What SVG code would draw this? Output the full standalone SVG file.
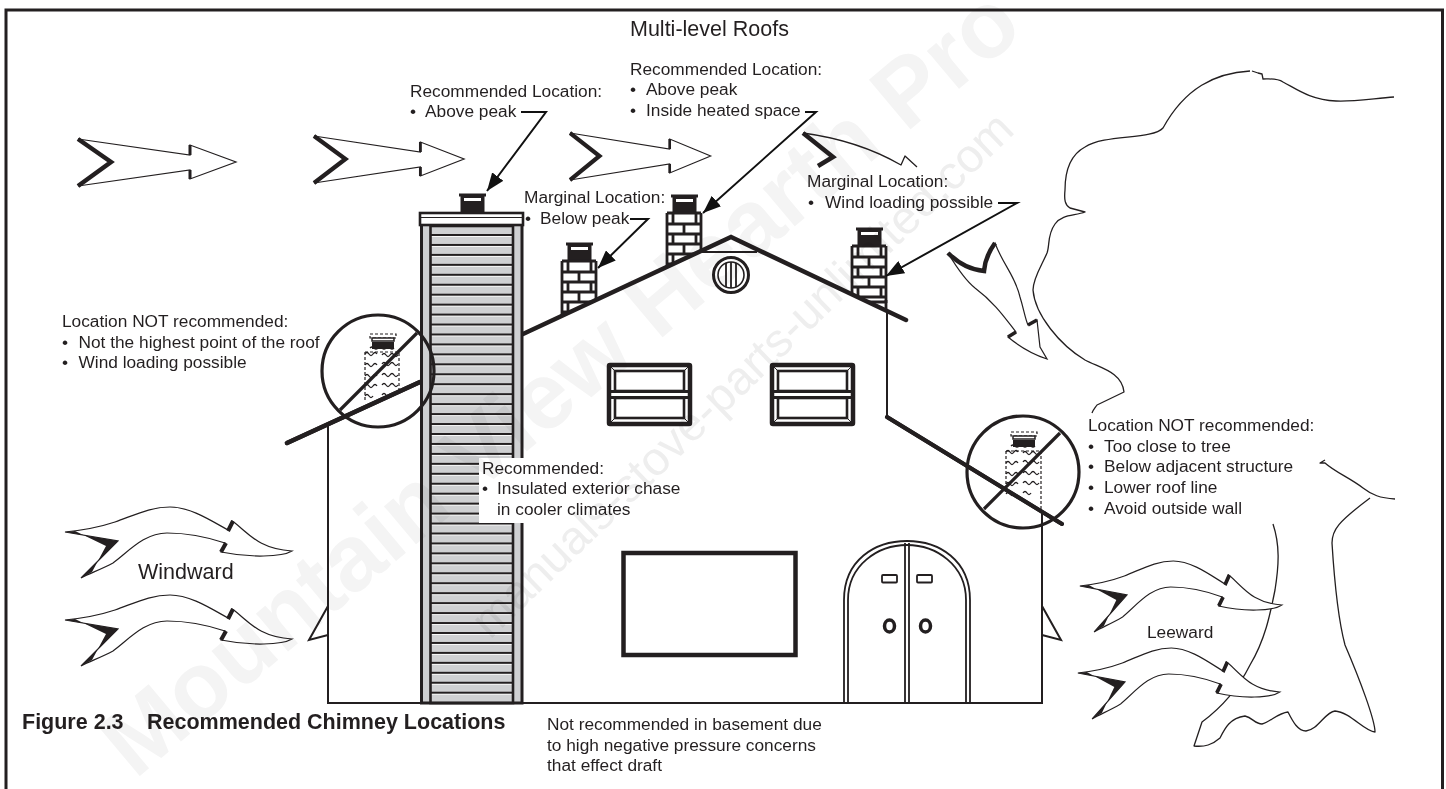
<svg xmlns="http://www.w3.org/2000/svg" xmlns:xlink="http://www.w3.org/1999/xlink" width="1446" height="789" viewBox="0 0 1446 789">
<style>
text{font-family:"Liberation Sans",Arial,sans-serif;font-size:17.3px;fill:#231f20}
.title{font-size:21.5px}
.fig{font-size:21.5px;font-weight:bold}
.wm1{font-size:94px;font-weight:bold;fill:#f4f4f4}
.wm2{font-size:47px;fill:#eeeeee}
#watermark{mix-blend-mode:multiply}
.thin{fill:none;stroke:#231f20;stroke-width:1.3;stroke-linejoin:round}
.thinw{fill:#fff;stroke:#231f20;stroke-width:1.2;stroke-linejoin:miter}
.ink{fill:#231f20}
.wall{fill:none;stroke:#231f20;stroke-width:2}
.roof{fill:none;stroke:#231f20;stroke-width:4.5;stroke-linecap:round}
.roof2{fill:none;stroke:#231f20;stroke-width:4;stroke-linecap:round}
.thick{fill:none;stroke:#231f20;stroke-width:4.5;stroke-linejoin:miter}
.brick{fill:none;stroke:#231f20;stroke-width:2.8}
.dash{fill:none;stroke:#231f20;stroke-width:1.2;stroke-dasharray:3 2}
.wig{fill:none;stroke:#231f20;stroke-width:1.3}
.ban{fill:none;stroke:#231f20;stroke-width:3.2}
.lead{fill:none;stroke:#111;stroke-width:2;marker-end:url(#ah)}
</style>
<defs>
<marker id="ah" markerUnits="userSpaceOnUse" markerWidth="20" markerHeight="14" refX="18" refY="7" orient="auto"><path d="M0 0L18 7L0 14Z" fill="#111"/></marker>
<pattern id="slats" patternUnits="userSpaceOnUse" x="0" y="234" width="10" height="9.95">
<rect width="10" height="9.95" fill="#cfd0d2"/><rect y="0" width="10" height="2" fill="#231f20"/><rect y="2" width="10" height="0.9" fill="#fff"/>
</pattern>
<g id="arrowS">
<path class="thinw" d="M0 0L112 16V6L158 23L112 40V31L0 47L33 23Z"/>
<path class="thick" d="M0 0L33 23L0 47"/>
<path d="M112 16V6M112 31V40" fill="none" stroke="#231f20" stroke-width="3"/>
</g>
<g id="arrowC">
<path class="thinw" d="M65 532C85 530 100 527 115 522C135 515 150 507 170 507C190 507 210 520 228 530L232 521L235 523C250 535 260 549 292 551C282 557 250 558 221 552L225 543C210 538 190 533 167 533C145 533 130 550 113 563C100 570 90 573 81 578L118 541Z"/>
<path class="ink" d="M65 532L118 541L81 578L92 572L106 546L75 531Z"/>
<path d="M228 531L233 521M221 552L226 543" fill="none" stroke="#231f20" stroke-width="4"/>
</g>
<g id="cap">
<path class="ink" d="M5 0.5H32V3.5H30.5V19H6.5V3.5H5Z"/>
<rect x="10" y="5" width="17" height="3" fill="#fff"/>
</g>
<g id="brickC">
<use xlink:href="#cap"/>
<path class="brick" d="M1 19H35M1 19V76M35 19V76M1 30H35M1 40H35M1 50H35M1 60H35M1 70H35M7 19V30M30 19V30M18 30V40M7 40V50M30 40V50M18 50V60M7 60V70M30 60V70"/>
</g>
<g id="ghost">
<rect x="6" y="0" width="26" height="4" class="dash"/>
<rect x="8" y="4" width="22" height="3" fill="#fff" stroke="#231f20" stroke-width="1.5"/>
<rect x="8" y="8" width="22" height="7" class="ink"/>
<path class="wig" d="M1 20q2-3 4 0t4 0 4 0M18 21q2-3 4 0t4 0 4 0 4 0M1 31q2-3 4 0t4 0 4 0M18 30q2-3 4 0t4 0 4 0 4 0M1 42q2-3 4 0t4 0 4 0M18 41q2-3 4 0t4 0 4 0 4 0M1 52q2-3 4 0t4 0 4 0M18 51q2-3 4 0t4 0 4 0 4 0M1 62q2-3 4 0t4 0M18 61q2-3 4 0t4 0"/>
<path class="wig" stroke-width="2" d="M6 14q2-2 4 0t4 0 4 0 4 0 4 0 4 0"/>
</g>
<g id="win">
<rect x="2" y="2" width="81" height="59" rx="1" fill="#fff" stroke="#231f20" stroke-width="4.5"/>
<rect x="8" y="8" width="69" height="20" fill="#fff" stroke="#231f20" stroke-width="2.6"/>
<rect x="8" y="35" width="69" height="20" fill="#fff" stroke="#231f20" stroke-width="2.6"/>
<path d="M2 28.5H83M2 34.5H83" stroke="#231f20" stroke-width="3" fill="none"/>
<path d="M2 2L8 8M83 2L77 8M2 61L8 55M83 61L77 55" stroke="#231f20" stroke-width="1"/>
</g>
</defs>
<rect width="1446" height="789" fill="#fff"/>
<path id="frame" d="M6 789V10H1442.5V789" fill="none" stroke="#231f20" stroke-width="3"/>
<g id="wind-top">
<use xlink:href="#arrowS" x="78" y="139"/>
<use xlink:href="#arrowS" transform="translate(314 136) scale(.95 1)"/>
<use xlink:href="#arrowS" transform="translate(570 133) scale(.89 1)"/>
<path class="thin" d="M803 133C840 138 875 150 901 165L905 156L917 167"/>
<path class="thick" d="M803 133L833 157L818 166"/>
</g>
<g id="wind-down">
<path class="thinw" d="M995 243C1003 265 1015 275 1020 297C1024 310 1025 318 1028 325L1037 320L1040 347L1047 359C1035 355 1020 347 1008 337L1016 332C1005 318 995 303 975 288C965 280 957 268 948 253C960 265 972 270 984 271C985 258 990 250 995 243Z"/>
<path class="thick" d="M948 253C960 265 972 270 984 271C985 258 990 250 995 243"/>
<path d="M1028 325L1037 320M1008 337L1016 332" stroke="#231f20" stroke-width="3.5" fill="none"/>
</g>
<g id="tree">
<path class="thin" d="M1394 97C1370 99 1350 102 1336 101C1310 100 1295 88 1283 82C1277 78 1270 79 1263 79L1262 74L1258 73L1252 71"/>
<path class="thin" d="M1250 71C1215 73 1185 88 1163 128C1152 140 1105 134 1085 147C1070 155 1065 172 1065 190C1064 200 1065 205 1070 208L1085 212C1075 216 1062 214 1055 224C1047 235 1050 245 1047 253C1042 265 1033 278 1033 290C1035 315 1060 345 1085 360C1100 368 1122 372 1124 392L1097 405C1095 408 1093 410 1092 413"/>
<path class="thin" d="M1273 524C1280 545 1279 565 1275 590C1270 615 1265 640 1250 665C1240 685 1225 705 1202 722L1194 746C1205 747 1212 745 1220 738C1225 728 1230 718 1245 716C1253 718 1255 724 1262 724C1270 722 1278 713 1288 712C1293 722 1298 731 1306 731C1318 730 1325 712 1335 711C1350 712 1365 732 1375 732C1375 720 1360 680 1345 645C1337 615 1334 575 1332 543C1332 530 1338 522 1370 498"/>
<path class="thin" d="M1395 499C1380 498 1372 495 1363 488C1350 478 1335 472 1325 463L1320 463L1325 460"/>
</g>
<g id="chimneys">
<use xlink:href="#brickC" x="561" y="242"/>
<use xlink:href="#brickC" x="666" y="194"/>
<use xlink:href="#brickC" x="851" y="227"/>
<path class="brick" d="M851 302H886M886 300V316"/>
<path d="M523 334L731 237L887 311V425H523Z" fill="#fff"/>
</g>
<g id="house">
<path class="wall" d="M328 425V703H1042V510"/>
<path class="wall" d="M328 606L309 640L328 635M1042 606L1061 640L1042 635"/>
<path class="roof" d="M287 443L420 382"/>
<path class="roof" d="M523 334L731 237L906 320"/>
<path d="M702 252H757" stroke="#231f20" stroke-width="2" fill="none"/>
<path class="wall" d="M887 312V417" stroke-width="2.5"/>
<path class="roof2" d="M887 417L1062 524"/>
<g id="vent">
<circle cx="731" cy="275" r="17.5" fill="#fff" stroke="#231f20" stroke-width="3"/>
<circle cx="731" cy="275" r="13" fill="#fff" stroke="#231f20" stroke-width="1.6"/>
<path d="M726 263V287M731 262V288M736 263V287" stroke="#231f20" stroke-width="1.8" fill="none"/>
</g>
<use xlink:href="#win" x="607" y="363"/>
<use xlink:href="#win" x="770" y="363"/>
<g id="big-window">
<rect x="623.5" y="553" width="172" height="102" fill="#fff" stroke="#231f20" stroke-width="4.5"/>
</g>
<g id="door">
<path d="M844 703V600C844 560 875 541 907 541C939 541 970 560 970 600V703" fill="none" stroke="#231f20" stroke-width="1.8"/>
<path d="M848 703V600C848 565 878 545 907 545C936 545 966 565 966 600V703" fill="none" stroke="#231f20" stroke-width="1.8"/>
<path d="M905 543V703M909 543V703" stroke="#231f20" stroke-width="1.8" fill="none"/>
<rect x="882" y="575" width="15" height="7.5" rx="1" fill="#fff" stroke="#231f20" stroke-width="1.8"/>
<rect x="917" y="575" width="15" height="7.5" rx="1" fill="#fff" stroke="#231f20" stroke-width="1.8"/>
<ellipse cx="889.5" cy="626" rx="5" ry="6" fill="#fff" stroke="#231f20" stroke-width="3.5"/>
<ellipse cx="925.5" cy="626" rx="5" ry="6" fill="#fff" stroke="#231f20" stroke-width="3.5"/>
</g>
</g>
<g id="chase">
<rect x="421.5" y="224" width="100.5" height="479" fill="#cfd0d2" stroke="#231f20" stroke-width="3"/>
<rect x="430.5" y="226" width="82.5" height="477" fill="url(#slats)" stroke="#231f20" stroke-width="2.6"/>
<rect x="420" y="213" width="103" height="12" fill="#fff" stroke="#231f20" stroke-width="2.6"/>
<path d="M420 217.5H523" stroke="#231f20" stroke-width="1.2"/>
<use xlink:href="#cap" x="454" y="193"/>
<rect x="479" y="458" width="46" height="65" fill="#fff"/>
</g>
<g id="ban-left">
<use xlink:href="#ghost" x="364" y="334"/>
<path class="dash" d="M365 352H399V392M365 352V400"/>
<path class="roof" d="M287 443L420 382" stroke-width="4"/>
<circle class="ban" cx="378" cy="371" r="56"/>
<path class="ban" d="M340 410L417 333"/>
</g>
<g id="ban-right">
<use xlink:href="#ghost" x="1005" y="432"/>
<path class="dash" d="M1006 451H1041V510M1006 451V490"/>
<path class="roof2" d="M887 417L1062 524"/>
<circle class="ban" cx="1023" cy="472" r="56"/>
<path class="ban" d="M984 509L1060 433"/>
</g>
<g id="wind-low">
<use xlink:href="#arrowC"/>
<use xlink:href="#arrowC" y="88"/>
<use xlink:href="#arrowC" transform="translate(1022 54) scale(.89 1)"/>
<use xlink:href="#arrowC" transform="translate(1020 141) scale(.89 1)"/>
</g>
<g id="connectors">
<path class="lead" d="M521 112H546L487 191"/>
<path class="lead" d="M805 112H816L703 213"/>
<path class="lead" d="M630 219H648L598 268"/>
<path class="lead" d="M998 203H1017L886 276"/>
</g>
<g id="labels">
<text class="title" x="630" y="36">Multi-level Roofs</text>
<text x="410" y="97">Recommended Location:</text>
<text x="410" y="117">•</text><text x="425" y="117">Above peak</text>
<text x="630" y="75">Recommended Location:</text>
<text x="630" y="95">•</text><text x="646" y="95">Above peak</text>
<text x="630" y="116">•</text><text x="646" y="116">Inside heated space</text>
<text x="524" y="203">Marginal Location:</text>
<text x="525" y="224">•</text><text x="540" y="224">Below peak</text>
<text x="807" y="187">Marginal Location:</text>
<text x="808" y="208">•</text><text x="825" y="208">Wind loading possible</text>
<text x="62" y="327">Location NOT recommended:</text>
<text x="62" y="348">•</text><text x="78.5" y="348">Not the highest point of the roof</text>
<text x="62" y="368">•</text><text x="78.5" y="368">Wind loading possible</text>
<text x="482" y="474">Recommended:</text>
<text x="482" y="494">•</text><text x="497" y="494">Insulated exterior chase</text>
<text x="497" y="515">in cooler climates</text>
<text x="1088" y="431">Location NOT recommended:</text>
<text x="1088" y="452">•</text><text x="1104" y="452">Too close to tree</text>
<text x="1088" y="472">•</text><text x="1104" y="472">Below adjacent structure</text>
<text x="1088" y="493">•</text><text x="1104" y="493">Lower roof line</text>
<text x="1088" y="514">•</text><text x="1104" y="514">Avoid outside wall</text>
<text class="title" x="138" y="579">Windward</text>
<text x="1147" y="638">Leeward</text>
<text class="fig" x="22" y="729">Figure 2.3</text>
<text class="fig" x="147" y="729">Recommended Chimney Locations</text>
<text x="547" y="730">Not recommended in basement due</text>
<text x="547" y="751">to high negative pressure concerns</text>
<text x="547" y="771">that effect draft</text>
</g>
<g id="watermark">
<text class="wm1" transform="translate(135 780) rotate(-40)">Mountain View Hearth Pro</text>
<text class="wm2" transform="translate(490 640) rotate(-44)">manuals-stove-parts-unlimited.com</text>
</g>
</svg>
